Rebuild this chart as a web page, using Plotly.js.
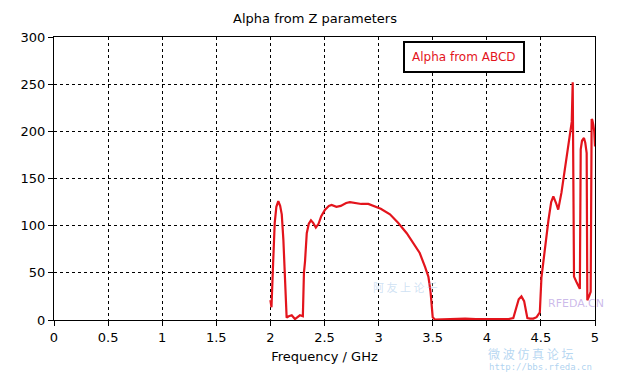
<!DOCTYPE html>
<html>
<head>
<meta charset="utf-8">
<script src="https://cdn.plot.ly/plotly-3.0.1.min.js"></script>
<style>html,body{margin:0;padding:0;background:#fff;}#chart{width:630px;height:373px;}</style>
</head>
<body>
<div id="chart"></div>
<script>
// Frequency (GHz) and Alpha values
const freqGHz = [
  2.0, 2.01, 2.025, 2.04, 2.055, 2.073, 2.09, 2.105, 2.12, 2.135, 2.15,
  2.17, 2.197, 2.227, 2.25, 2.273, 2.30, 2.31, 2.32, 2.336, 2.355, 2.375,
  2.395, 2.42, 2.445, 2.47, 2.505, 2.54, 2.566, 2.61, 2.65, 2.70, 2.735,
  2.78, 2.84, 2.905, 2.96, 3.02, 3.105, 3.18, 3.26, 3.33, 3.38, 3.43,
  3.46, 3.48, 3.50, 3.52, 3.6, 3.7, 3.8, 3.9, 4.0, 4.1, 4.2, 4.245,
  4.27, 4.295, 4.32, 4.345, 4.365, 4.375, 4.4, 4.43, 4.46, 4.48, 4.49,
  4.505, 4.525, 4.545, 4.57, 4.595, 4.615, 4.64, 4.66, 4.69, 4.72, 4.75,
  4.77, 4.785, 4.794, 4.806, 4.83, 4.86, 4.868, 4.88, 4.898, 4.91, 4.923,
  4.929, 4.945, 4.96, 4.969, 4.975, 4.984, 4.993, 5.0
];
const alphaABCD = [
  21, 13.5, 60, 103, 120, 126, 121, 112, 85, 50, 2.5,
  4, 5, 1, 3, 5, 4, 50, 62, 92, 102, 105.6,
  103, 98, 102, 110, 117, 121, 122, 120, 121, 124, 125,
  124, 123, 123, 121, 118, 112, 103, 92, 80, 71, 56,
  46, 30, 3, 0.5, 0.8, 1, 1.5, 1, 1, 0.8, 1, 2,
  12, 22, 25, 20, 8, 2, 1.5, 1.5, 3, 6, 8,
  45, 65, 80, 106, 125, 131, 124, 117, 135, 158, 180,
  195, 210, 252, 46, 40, 33, 181, 190, 193, 188, 177,
  21, 25, 30, 213, 212, 207, 200, 184
];
const seriesName = 'Alpha from ABCD';
const chartTitle = 'Alpha from Z parameters';
const xTitle = 'Frequency / GHz';
const xTicks = [0, 0.5, 1, 1.5, 2, 2.5, 3, 3.5, 4, 4.5, 5];
const yTicks = [0, 50, 100, 150, 200, 250, 300];

const FONT = 'DejaVu Sans, Verdana, sans-serif';
const RED = '#e3141c';

const trace = {
  x: freqGHz, y: alphaABCD, type: 'scatter', mode: 'lines',
  name: seriesName,
  line: {color: RED, width: 2.2},
  showlegend: false
};

const axisCommon = {
  showline: true, linecolor: '#000', linewidth: 1, mirror: true,
  ticks: 'outside', ticklen: 5, tickcolor: '#000', tickwidth: 1,
  showgrid: true, gridcolor: '#000', gridwidth: 1, griddash: '3px,3px',
  zeroline: false, tickfont: {family: FONT, size: 13, color: '#000'}
};

const layout = {
  width: 630, height: 373,
  margin: {l: 54, r: 35, t: 37, b: 53},
  paper_bgcolor: '#fff', plot_bgcolor: '#fff',
  showlegend: false,
  title: {text: chartTitle, font: {family: FONT, size: 13, color: '#000'}, x: 0.5, xanchor: 'center', y: 0.95, yanchor: 'middle'},
  xaxis: Object.assign({}, axisCommon, {
    range: [0, 5], tickvals: xTicks, ticktext: xTicks.map(String),
    title: {text: xTitle, font: {family: FONT, size: 13, color: '#000'}, standoff: 8}
  }),
  yaxis: Object.assign({}, axisCommon, {
    range: [0, 300], tickvals: yTicks, ticktext: yTicks.map(String)
  }),
  annotations: [
    // legend box
    {text: seriesName, xref: 'paper', yref: 'paper', x: 0.757, y: 0.9276, xanchor: 'center', yanchor: 'middle',
     showarrow: false, font: {family: FONT, size: 12, color: RED},
     bgcolor: '#fff', bordercolor: '#000', borderwidth: 2, borderpad: 7},
    // watermark texts
    {text: '微 波 仿 真 论 坛', xref: 'paper', yref: 'paper', x: 0.88, y: -0.117, xanchor: 'center', yanchor: 'middle',
     showarrow: false, font: {family: 'Noto Sans CJK SC', size: 12, color: 'rgba(120,180,230,0.55)'}},
    {text: 'http://bbs.rfeda.cn', xref: 'paper', yref: 'paper', x: 0.9, y: -0.165, xanchor: 'center', yanchor: 'middle',
     showarrow: false, font: {family: 'DejaVu Sans Mono', size: 9, color: 'rgba(120,180,230,0.6)'}},
    {text: 'RFEDA.CN', xref: 'paper', yref: 'paper', x: 1.02, y: 0.06, xanchor: 'right', yanchor: 'middle',
     showarrow: false, font: {family: FONT, size: 11, color: 'rgba(170,140,220,0.6)'}},
    {text: '阿 友 上 论 千', xref: 'paper', yref: 'paper', x: 0.65, y: 0.115, xanchor: 'center', yanchor: 'middle',
     showarrow: false, font: {family: 'Noto Sans CJK SC', size: 11, color: 'rgba(150,190,230,0.45)'}}
  ]
};

Plotly.newPlot('chart', [trace], layout, {displayModeBar: false, staticPlot: true});
</script>
</body>
</html>
